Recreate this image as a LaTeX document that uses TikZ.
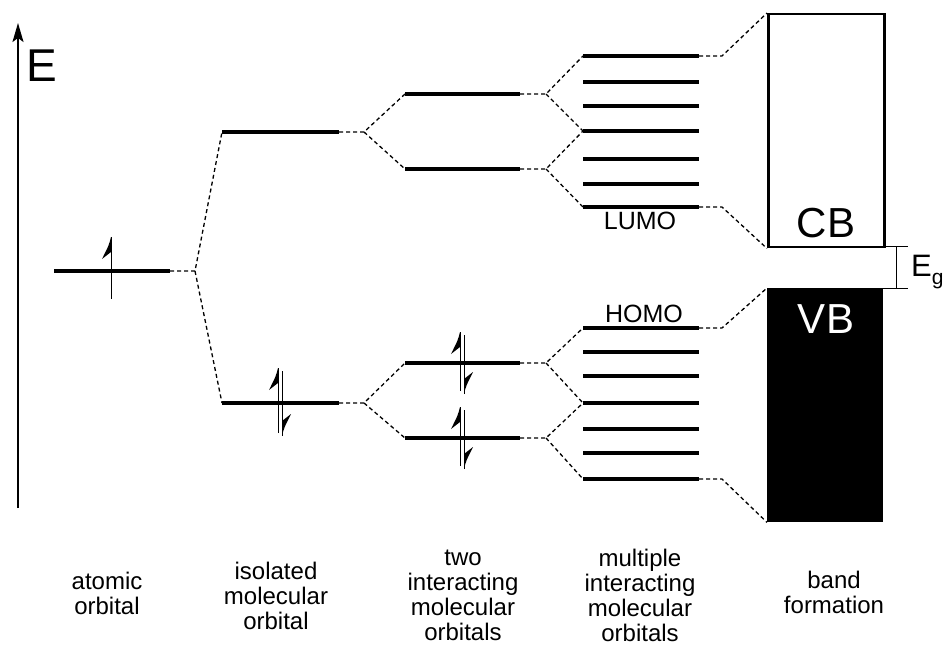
\documentclass[tikz,border=0pt]{standalone}
\usepackage{fontspec}
\setmainfont{Liberation Sans}
\usetikzlibrary{arrows.meta}
\newcommand\upspin[3]{% x, ytip, ybottom
  \draw[spin] (#1,#3) -- (#1,#2);
  \fill (#1,#2) .. controls (#1-2,#2+8) .. (#1-9,#2+22) -- (#1,#2+15) -- cycle;}
\newcommand\downspin[3]{% x, ytop, ytip
  \draw[spin] (#1,#2) -- (#1,#3);
  \fill (#1,#3) .. controls (#1+2,#3-8) .. (#1+9,#3-22) -- (#1,#3-15) -- cycle;}
\begin{document}
\begin{tikzpicture}[x=1pt,y=-1pt,
  level/.style={line width=4.2pt},
  conn/.style={line width=1.3pt, dash pattern=on 4pt off 3pt},
  spin/.style={line width=1pt},
  lbl/.style={align=center, font=\fontsize{24}{25}\selectfont},
]
\useasboundingbox (0,0) rectangle (943,655);

% energy axis
\coordinate (ax0) at (18,508);
\coordinate (ax1) at (18,23);
\draw[line width=1.8pt, -{Stealth[length=19pt,width=11pt,inset=4pt]}] (ax0) -- (ax1);
\node[font=\fontsize{46}{46}\selectfont, anchor=base west, inner sep=0pt] (E) at (26,82) {E};

% atomic orbital
\coordinate (a1) at (54,271); \coordinate (a2) at (170,271);
\coordinate (ab) at (195,271);
\draw[level] (a1) -- (a2);
\upspin{111}{237}{299}

% isolated molecular orbital
\coordinate (iu1) at (222,132); \coordinate (iu2) at (339,132); \coordinate (ibu) at (364,132);
\coordinate (il1) at (222,403); \coordinate (il2) at (339,403); \coordinate (ibl) at (364,403);
\draw[level] (iu1) -- (iu2);
\draw[level] (il1) -- (il2);
\upspin{278}{368}{433}
\downspin{282}{371}{436}

% two interacting
\foreach \n/\y in {1/94,2/169,3/363,4/438}{
  \coordinate (t\n L) at (405,\y);
  \coordinate (t\n R) at (520,\y);
  \coordinate (tb\n) at (546,\y);
  \draw[level] (t\n L) -- (t\n R);
}
\upspin{460}{332}{391}
\downspin{464}{335}{394}
\upspin{460}{407}{466}
\downspin{464}{410}{469}

% multiple interacting
\foreach \n/\y in {1/56,2/82,3/106,4/131,5/159,6/184,7/207,8/328,9/352,10/376,11/403,12/429,13/453,14/479}{
  \coordinate (m\n L) at (583,\y);
  \coordinate (m\n R) at (699,\y);
  \draw[level] (m\n L) -- (m\n R);
}
\foreach \n/\y in {1/56,7/207,8/328,14/479}{
  \coordinate (mb\n) at (722,\y);
}
\node[font=\fontsize{25}{25}\selectfont] (lumo) at (640,221) {LUMO};
\node[font=\fontsize{25}{25}\selectfont] (homo) at (644,314) {HOMO};

% bands
\node[draw, line width=2.5pt, minimum width=116pt, minimum height=233pt, inner sep=0pt, anchor=north west] (cb) at (767,13) {};
\node[fill=black, minimum width=116pt, minimum height=234pt, inner sep=0pt, anchor=north west] (vb) at (767,288) {};
\node[font=\fontsize{42}{42}\selectfont, anchor=base] (cbt) at (826,238) {CB};
\node[font=\fontsize{42}{42}\selectfont, anchor=base, text=white] (vbt) at (826,333) {VB};

% connectors
\draw[conn] (a2) -- (ab) -- (iu1);
\draw[conn] (ab) -- (il1);
\draw[conn] (iu2) -- (ibu) -- (t1L);
\draw[conn] (ibu) -- (t2L);
\draw[conn] (il2) -- (ibl) -- (t3L);
\draw[conn] (ibl) -- (t4L);
\draw[conn] (t1R) -- (tb1) -- (m1L);
\draw[conn] (tb1) -- (m4L);
\draw[conn] (t2R) -- (tb2) -- (m4L);
\draw[conn] (tb2) -- (m7L);
\draw[conn] (t3R) -- (tb3) -- (m8L);
\draw[conn] (tb3) -- (m11L);
\draw[conn] (t4R) -- (tb4) -- (m11L);
\draw[conn] (tb4) -- (m14L);
\draw[conn] (m1R) -- (mb1) -- (cb.north west);
\draw[conn] (m7R) -- (mb7) -- (cb.south west);
\draw[conn] (m8R) -- (mb8) -- (vb.north west);
\draw[conn] (m14R) -- (mb14) -- (vb.south west);

% band gap
\coordinate (g1) at (883,247); \coordinate (g2) at (908,247);
\coordinate (g3) at (883,289); \coordinate (g4) at (908,289);
\coordinate (gt) at (896,247); \coordinate (gb) at (896,289);
\draw[line width=1pt] (g1) -- (g2) (g3) -- (g4) (gt) -- (gb);
\node[font=\fontsize{31}{31}\selectfont, anchor=base west, inner sep=0pt] (eg) at (911,277) {E\raisebox{-0.25em}{\fontsize{21}{21}\selectfont g}};

% bottom labels
\node[lbl] (l1) at (107,593) {atomic\\orbital};
\node[lbl] (l2) at (276,596) {isolated\\molecular\\orbital};
\node[lbl] (l3) at (463,595) {two\\interacting\\molecular\\orbitals};
\node[lbl] (l4) at (640,595) {multiple\\interacting\\molecular\\orbitals};
\node[lbl] (l5) at (834,592) {band\\formation};
\end{tikzpicture}
\end{document}
